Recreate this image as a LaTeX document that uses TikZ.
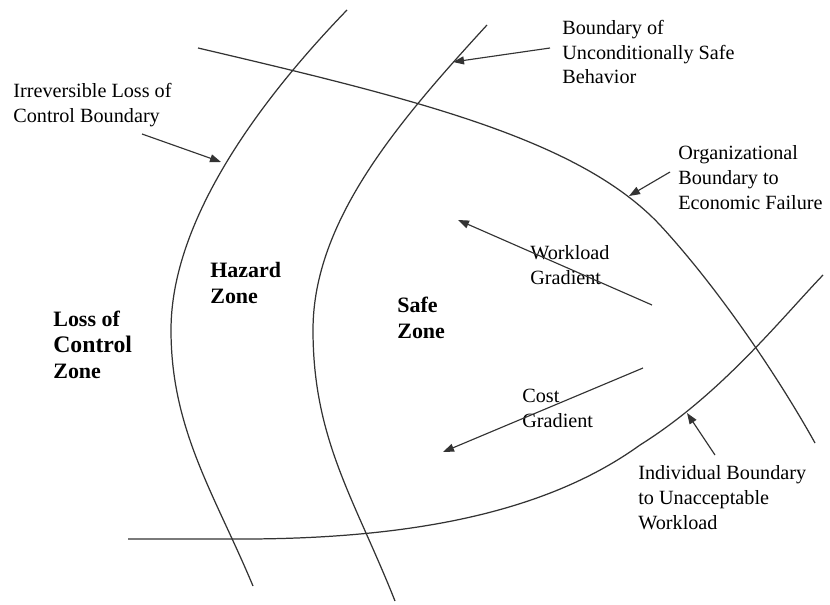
\documentclass[tikz,border=0pt]{standalone}
\usepackage{fontspec}
\setmainfont{Liberation Serif}
\usetikzlibrary{arrows.meta}
\definecolor{Ink}{HTML}{333333}
\begin{document}
\begin{tikzpicture}[
    x=0.02cm, y=-0.02cm,
    boundary/.style={Ink, line width=0.7pt},
    arrow/.style={-{Triangle[length=2.2mm, width=1.6mm]}, Ink, line width=0.65pt},
    label/.style={anchor=west, inner sep=0pt, align=left, font=\fontsize{11.5}{14.2}\selectfont},
    zone/.style={anchor=west, inner sep=0pt, align=left, font=\fontsize{12.5}{14.8}\selectfont\bfseries},
]
    \useasboundingbox (0,0) rectangle (830,604);

    \draw[boundary] (347,10) .. controls (260,100) and (171,220) .. (171,330)
        .. controls (171,430) and (215,495) .. (253,586);
    \draw[boundary] (487,25) .. controls (400,120) and (313,220) .. (313,330)
        .. controls (313,440) and (355,500) .. (395,601);
    \draw[boundary] (198,48) .. controls (420,100) and (580,140) .. (660,225)
        .. controls (720,290) and (780,380) .. (815,443);
    \draw[boundary] (128,539) -- (250,539) .. controls (420,538) and (550,510) .. (640,445)
        .. controls (720,395) and (780,320) .. (823,275);

    \node[label] (irreversible) at (13,105) {Irreversible Loss of\\Control Boundary};
    \node[label] (unconditional) at (562,52) {Boundary of\\Unconditionally Safe\\Behavior};
    \node[label] (organizational) at (678,178) {Organizational\\Boundary to\\Economic Failure};
    \node[label] (workload) at (530,265) {Workload\\Gradient};
    \node[label] (cost) at (522,408) {Cost\\Gradient};
    \node[label] (individual) at (638,498) {Individual Boundary\\to Unacceptable\\Workload};

    \node[zone] (hazard) at (210,283) {Hazard\\Zone};
    \node[zone] (safe) at (397,318) {Safe\\Zone};
    \node[zone] (lossctrl) at (53,345) {Loss of\\{\fontsize{13.5}{14.8}\selectfont Control}\\Zone};

    \coordinate (irrTail) at (142,134);
    \coordinate (irrTip) at (221,162);
    \coordinate (uncTail) at (550,48);
    \coordinate (uncTip) at (453,62);
    \coordinate (orgTail) at (670,172);
    \coordinate (orgTip) at (629,196);
    \coordinate (indTail) at (715,455);
    \coordinate (indTip) at (687,413);
    \coordinate (workTail) at (652,305);
    \coordinate (workTip) at (458,220);
    \coordinate (costTail) at (643,368);
    \coordinate (costTip) at (443,452);

    \draw[arrow] (irrTail) -- (irrTip);
    \draw[arrow] (uncTail) -- (uncTip);
    \draw[arrow] (orgTail) -- (orgTip);
    \draw[arrow] (indTail) -- (indTip);
    \draw[arrow] (workTail) -- (workTip);
    \draw[arrow] (costTail) -- (costTip);
\end{tikzpicture}
\end{document}
